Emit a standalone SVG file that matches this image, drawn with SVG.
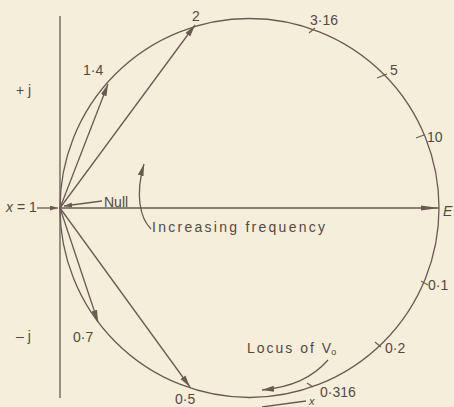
<svg xmlns="http://www.w3.org/2000/svg" width="454" height="407" viewBox="0 0 454 407">
<defs>
<style>
.ln{stroke:#6b5a52;stroke-width:1.3;fill:none}
.tk{stroke:#6b5a52;stroke-width:1.1;fill:none}
.t{font-family:"Liberation Sans","DejaVu Sans",sans-serif;font-size:14px;fill:#574842}
.i{font-style:italic}
</style>
<marker id="ah" markerUnits="userSpaceOnUse" markerWidth="14" markerHeight="8" refX="12" refY="3.5" orient="auto">
<path d="M0,0.5 L12,3.5 L0,6.5 z" fill="#6b5a52"/>
</marker>
<marker id="ahE" markerUnits="userSpaceOnUse" markerWidth="20" markerHeight="8" refX="18" refY="3.5" orient="auto">
<path d="M0,1 L18,3.5 L0,6 z" fill="#6b5a52"/>
</marker>
<marker id="ahs" markerUnits="userSpaceOnUse" markerWidth="9" markerHeight="6" refX="8" refY="2.5" orient="auto">
<path d="M0,0 L8,2.5 L0,5 z" fill="#6b5a52"/>
</marker>
</defs>
<rect width="454" height="407" fill="#f4eedb"/>
<g id="axes">
<line class="ln" x1="60" y1="16" x2="60" y2="398"/>
</g>
<g id="locus-circle">
<circle class="ln" cx="249.5" cy="208" r="189.5"/>
<line class="tk" x1="309" y1="33" x2="315" y2="28"/>
<line class="tk" x1="377" y1="78" x2="387" y2="74"/>
<line class="tk" x1="416" y1="138" x2="424" y2="135"/>
<line class="tk" x1="421" y1="281" x2="428" y2="285"/>
<line class="tk" x1="375" y1="342" x2="381" y2="347"/>
<line class="tk" x1="307" y1="383" x2="313" y2="387"/>
</g>
<g id="connectors">
<line class="ln" x1="60" y1="208" x2="439" y2="208" marker-end="url(#ahE)"/>
<line class="ln" x1="60" y1="208" x2="108" y2="84" marker-end="url(#ah)"/>
<line class="ln" x1="60" y1="208" x2="195" y2="25" marker-end="url(#ah)"/>
<line class="ln" x1="60" y1="208" x2="98" y2="322" marker-end="url(#ah)"/>
<line class="ln" x1="60" y1="208" x2="190" y2="387" marker-end="url(#ah)"/>
<line class="ln" x1="37" y1="208" x2="58" y2="208" marker-end="url(#ahs)"/>
<line class="ln" x1="102" y1="201" x2="64" y2="206" marker-end="url(#ahs)"/>
<path class="ln" d="M151,229 C140,218 135,195 144,164" marker-end="url(#ah)"/>
<path class="ln" d="M328,360 C312,378 292,387 262,390" marker-end="url(#ah)"/>
<line class="ln" x1="262" y1="407" x2="306" y2="401"/>
</g>
<g id="labels">
<text class="t" x="16" y="95">+ j</text>
<text class="t" x="16" y="341">– j</text>
<text class="t" x="6" y="212"><tspan class="i">x</tspan> = 1</text>
<text class="t" x="104" y="207">Null</text>
<text class="t" x="83" y="75">1·4</text>
<text class="t" x="192" y="21">2</text>
<text class="t" x="310" y="25">3·16</text>
<text class="t" x="390" y="75">5</text>
<text class="t" x="427" y="142">10</text>
<text class="t i" x="443" y="216">E</text>
<text class="t" x="428" y="290">0·1</text>
<text class="t" x="385" y="353">0·2</text>
<text class="t" x="320" y="397">0·316</text>
<text class="t i" x="309" y="405" style="font-size:11px">x</text>
<text class="t" x="73" y="342">0·7</text>
<text class="t" x="175" y="404">0·5</text>
<text class="t" x="152" y="232" textLength="173" lengthAdjust="spacing">Increasing frequency</text>
<text class="t" x="247" y="353"><tspan letter-spacing="2">Locus of </tspan>V<tspan dy="2" style="font-size:9px">o</tspan></text>
</g>
</svg>
